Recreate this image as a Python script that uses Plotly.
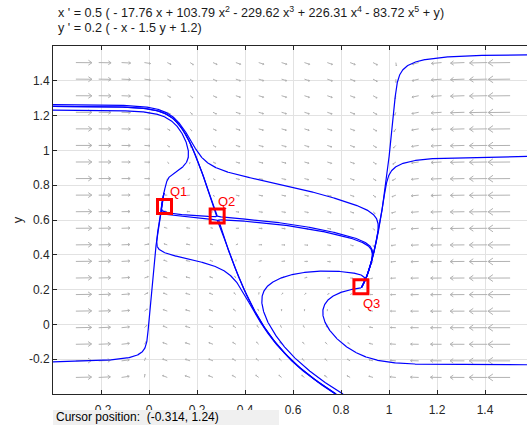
import math
import plotly.graph_objects as go

# ---- system (from the title) ----
XP_FACTOR = 0.5
XP_COEFS = [-17.76, 103.79, -229.62, 226.31, -83.72]   # x, x^2 .. x^5 ; plus y
YP_FACTOR = 0.2
YP_COEFS = [-1.0, -1.5, 1.2]                            # x, y, const

X_RANGE = [-0.4, 1.6]
Y_RANGE = [-0.4, 1.6]
X_VISIBLE = [-0.4, 1.575]
N_FIELD = 20

# ---- trajectory start points ----
TRAJ_X0 = [-0.4, -0.4, -0.4, 1.6, 1.6, 1.6, 0.2125, 0.47, 0.28, 0.29, 0.28, 0.29]
TRAJ_Y0 = [1.263, 1.232, -0.215, 1.55, 0.966, -0.232, 0.36, 0.13, 0.62, 0.62, 0.60, 0.60]

# ---- equilibrium markers ----
EQ_NAMES = ["Q1", "Q2", "Q3"]
EQ_X = [0.0646, 0.284, 0.883]
EQ_Y = [0.677, 0.623, 0.217]
EQ_LABEL_X = [0.123, 0.323, 0.929]
EQ_LABEL_Y = [0.766, 0.706, 0.12]

X_TICKS = [-0.2, 0, 0.2, 0.4, 0.6, 0.8, 1, 1.2, 1.4]
Y_TICKS = [-0.2, 0, 0.2, 0.4, 0.6, 0.8, 1, 1.2, 1.4]
CURSOR_TEXT = "Cursor position:  (-0.314, 1.24)"

# plot-area geometry (pixels)
PLOT_L, PLOT_R, PLOT_T, PLOT_B = 53, 527, 46, 394
PXU_X = (PLOT_R - PLOT_L) / (X_VISIBLE[1] - X_VISIBLE[0])
PXU_Y = (PLOT_B - PLOT_T) / (Y_RANGE[1] - Y_RANGE[0])


def field(x, y):
    px = sum(c * x ** (k + 1) for k, c in enumerate(XP_COEFS))
    fx = XP_FACTOR * (px + y)
    fy = YP_FACTOR * (YP_COEFS[0] * x + YP_COEFS[1] * y + YP_COEFS[2])
    return fx, fy


def equilibria():
    a, b, c = YP_COEFS
    ys = lambda x: -(a * x + c) / b
    res = []
    n = int((X_RANGE[1] - X_RANGE[0]) / 0.0005)
    xs = [X_RANGE[0] + i * 0.0005 for i in range(n)]
    g = lambda x: field(x, ys(x))[0]
    for i in range(len(xs) - 1):
        if g(xs[i]) * g(xs[i + 1]) <= 0:
            lo, hi = xs[i], xs[i + 1]
            for _ in range(60):
                mid = 0.5 * (lo + hi)
                if g(lo) * g(mid) <= 0:
                    hi = mid
                else:
                    lo = mid
            res.append((0.5 * (lo + hi), ys(0.5 * (lo + hi))))
    return res


EQS = equilibria()


def integrate(x0, y0, direction, ds=0.002, max_steps=25000):
    pts = [(x0, y0)]
    x, y = x0, y0
    for _ in range(max_steps):
        fx, fy = field(x, y)
        sp = math.hypot(fx, fy)
        if sp < 1e-9:
            break
        h = min(0.05, ds / sp) * direction
        k1 = field(x, y)
        k2 = field(x + 0.5 * h * k1[0], y + 0.5 * h * k1[1])
        k3 = field(x + 0.5 * h * k2[0], y + 0.5 * h * k2[1])
        k4 = field(x + h * k3[0], y + h * k3[1])
        x += h / 6 * (k1[0] + 2 * k2[0] + 2 * k3[0] + k4[0])
        y += h / 6 * (k1[1] + 2 * k2[1] + 2 * k3[1] + k4[1])
        pts.append((x, y))
        if x < X_RANGE[0] - 1e-9 or x > X_RANGE[1] + 1e-9 or y < Y_RANGE[0] - 1e-9 or y > Y_RANGE[1] + 1e-9:
            break
        if any(math.hypot(x - ex, y - ey) < 0.0015 for ex, ey in EQS):
            break
    return pts


fig = go.Figure()

# ---- vector field arrows ----
ax, ay = [], []
for i in range(1, N_FIELD + 1):
    gx = X_RANGE[0] + i * (X_RANGE[1] - X_RANGE[0]) / (N_FIELD + 1)
    for j in range(1, N_FIELD + 1):
        gy = Y_RANGE[0] + j * (Y_RANGE[1] - Y_RANGE[0]) / (N_FIELD + 1)
        fx, fy = field(gx, gy)
        m = math.hypot(fx, fy)
        if m == 0:
            continue
        Lpx = 6.3 * m ** 0.37
        s = Lpx / PXU_X / m
        tx, ty = gx + s * fx, gy + s * fy
        dxp, dyp = (tx - gx) * PXU_X, (ty - gy) * PXU_Y
        lp = math.hypot(dxp, dyp)
        ux, uy = dxp / lp, dyp / lp
        hl = 0.27 * lp
        ang = math.radians(35)
        heads = []
        for sgn in (1, -1):
            ca, sa = math.cos(sgn * ang), math.sin(sgn * ang)
            rx, ry = ux * ca - uy * sa, ux * sa + uy * ca
            heads.append((tx - hl * rx / PXU_X, ty - hl * ry / PXU_Y))
        ax += [gx, tx, None, heads[0][0], tx, heads[1][0], None]
        ay += [gy, ty, None, heads[0][1], ty, heads[1][1], None]

fig.add_trace(go.Scatter(x=ax, y=ay, mode="lines", line=dict(color="rgb(178,178,178)", width=1),
                         hoverinfo="skip", showlegend=False))

# ---- trajectories ----
tx_all, ty_all = [], []
for x0, y0 in zip(TRAJ_X0, TRAJ_Y0):
    back = integrate(x0, y0, -1)
    fwd = integrate(x0, y0, 1)
    pts = back[::-1] + fwd[1:]
    tx_all += [p[0] for p in pts] + [None]
    ty_all += [p[1] for p in pts] + [None]

fig.add_trace(go.Scatter(x=tx_all, y=ty_all, mode="lines", line=dict(color="#0000ff", width=1.2),
                         hoverinfo="skip", showlegend=False))

# ---- equilibrium squares ----
fig.add_trace(go.Scatter(x=EQ_X, y=EQ_Y, mode="markers",
                         marker=dict(symbol="square-open", size=14, color="#ff0000",
                                     line=dict(width=3, color="#ff0000")),
                         hoverinfo="skip", showlegend=False))
for name, lx, ly in zip(EQ_NAMES, EQ_LABEL_X, EQ_LABEL_Y):
    fig.add_annotation(x=lx, y=ly, xref="x", yref="y", text=name, showarrow=False,
                       font=dict(family="Liberation Sans, Arial", size=13, color="#ff0000"))

# ---- title (equation) ----
def term(c, k):
    sign = "-" if c < 0 else "+"
    xs = "x" if k == 1 else "x<sup>%d</sup>" % k
    return "%s %.2f %s" % (sign, abs(c), xs)

line1 = "x ' = %.1f ( " % XP_FACTOR + " ".join(term(c, k + 1) for k, c in enumerate(XP_COEFS)) + " + y)"
line2 = "y ' = %.1f ( - x - %.1f y + %.1f)" % (YP_FACTOR, abs(YP_COEFS[1]), YP_COEFS[2])


def px2paper_x(px):
    return (px - PLOT_L) / (PLOT_R - PLOT_L)


def px2paper_y(py):
    return (PLOT_B - py) / (PLOT_B - PLOT_T)


fig.add_annotation(x=px2paper_x(56), y=px2paper_y(12), xref="paper", yref="paper", xanchor="left",
                   yanchor="middle", text=line1, showarrow=False,
                   font=dict(family="Liberation Sans, Arial", size=12.6, color="#1a1a1a"))
fig.add_annotation(x=px2paper_x(56), y=px2paper_y(28), xref="paper", yref="paper", xanchor="left",
                   yanchor="middle", text=line2, showarrow=False,
                   font=dict(family="Liberation Sans, Arial", size=12.6, color="#1a1a1a"))

# ---- cursor position box ----
fig.add_shape(type="rect", xref="paper", yref="paper", x0=px2paper_x(53), x1=px2paper_x(279),
              y0=px2paper_y(410), y1=px2paper_y(440), fillcolor="#f0f0f0", line=dict(width=0),
              layer="above")
fig.add_annotation(x=px2paper_x(54), y=px2paper_y(417), xref="paper", yref="paper", xanchor="left",
                   yanchor="middle", text=CURSOR_TEXT, showarrow=False,
                   font=dict(family="Liberation Sans, Arial", size=12, color="#000000"))

fig.update_layout(
    width=527, height=425,
    margin=dict(l=PLOT_L, r=527 - PLOT_R, t=PLOT_T, b=425 - PLOT_B, autoexpand=False),
    plot_bgcolor="white", paper_bgcolor="white",
    font=dict(family="Liberation Sans, Arial", size=12, color="#262626"),
    xaxis=dict(range=X_VISIBLE, tickvals=X_TICKS, ticktext=[("%g" % v) for v in X_TICKS],
               showgrid=True, gridcolor="#e2e2e2", gridwidth=1, zeroline=False,
               showline=True, linecolor="#262626", linewidth=1, mirror="ticks",
               ticks="inside", ticklen=4, tickcolor="#262626", ticklabelstandoff=5),
    yaxis=dict(range=Y_RANGE, tickvals=Y_TICKS, ticktext=[("%g" % v) for v in Y_TICKS],
               showgrid=True, gridcolor="#e2e2e2", gridwidth=1, zeroline=False,
               showline=True, linecolor="#262626", linewidth=1, mirror=False,
               ticks="inside", ticklen=4, tickcolor="#262626",
               title=dict(text="y", font=dict(size=13), standoff=3)),
)

fig.write_html("out.html", config={"displayModeBar": False},
               post_script="document.body.style.margin='0';document.body.style.overflow='hidden';")
